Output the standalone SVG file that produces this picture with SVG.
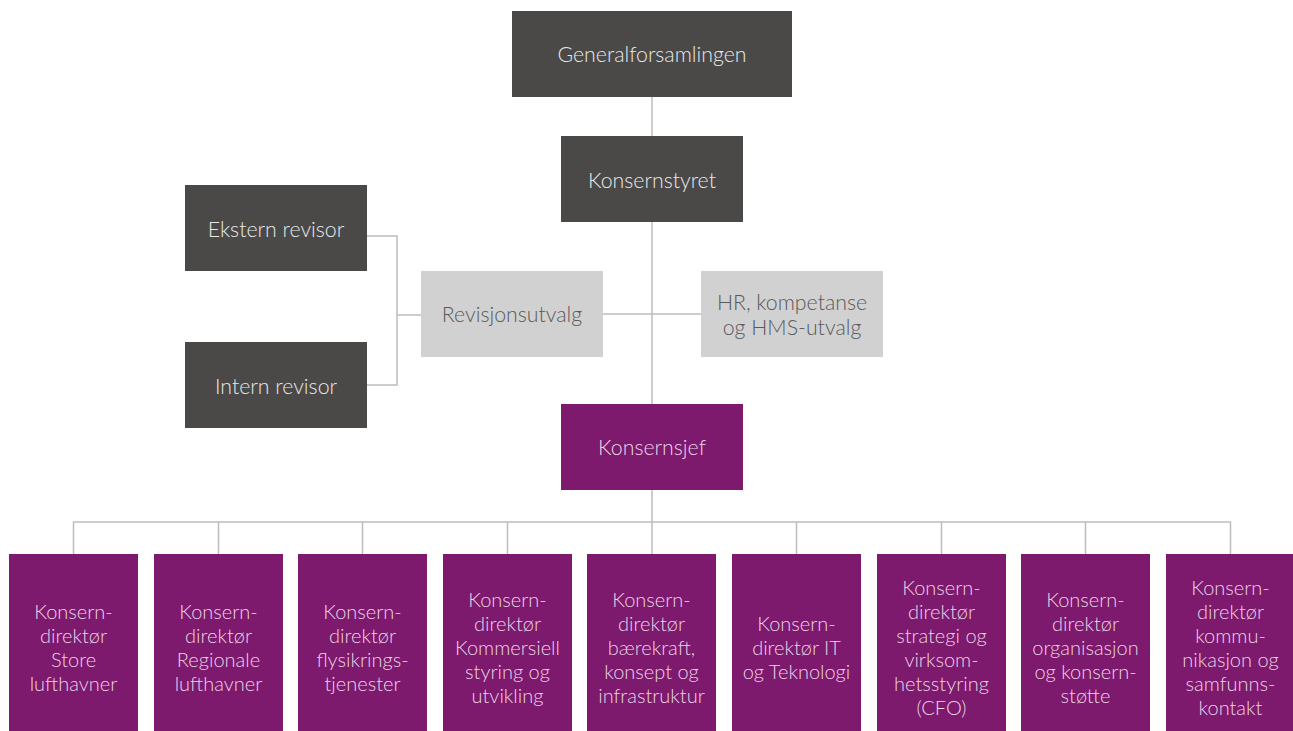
<svg xmlns="http://www.w3.org/2000/svg" width="1293" height="731" viewBox="0 0 1293 731">
<style>
.dark{fill:#4a4948}
.light{fill:#d1d1d1}
.purple{fill:#7d1a6d}
text{font-family:Lato,"Open Sans","Liberation Sans",sans-serif;font-weight:300;font-size:20px;text-anchor:middle}
.big{font-size:21.3px}
.td{fill:#e8e8e8}
.tl{fill:#5a5a5a}
.tp{fill:#ecd3e7}
.conn{stroke:#bdbdbd;stroke-width:1.5;fill:none}
</style>
<rect width="1293" height="731" fill="#ffffff"/>
<g id="connectors">
<path class="conn" d="M652 97V554"/>
<path class="conn" d="M367 236H397V385H367M397 315H421"/>
<path class="conn" d="M603 314H701"/>
<path class="conn" d="M73.5 554V522H1230.5V554M218.5 522V554M362.5 522V554M507.5 522V554M796.5 522V554M941.5 522V554M1085.5 522V554"/>
</g>
<g id="generalforsamlingen"><rect class="dark" x="512" y="11" width="280" height="86"/><text class="td big" x="652" y="62">Generalforsamlingen</text></g>
<g id="konsernstyret"><rect class="dark" x="561" y="136" width="182" height="86"/><text class="td big" x="652" y="188">Konsernstyret</text></g>
<g id="ekstern"><rect class="dark" x="185" y="185" width="182" height="86"/><text class="td big" x="276" y="237">Ekstern revisor</text></g>
<g id="intern"><rect class="dark" x="185" y="342" width="182" height="86"/><text class="td big" x="276" y="394">Intern revisor</text></g>
<g id="revisjonsutvalg"><rect class="light" x="421" y="271" width="182" height="86"/><text class="tl big" x="512" y="322">Revisjonsutvalg</text></g>
<g id="hr"><rect class="light" x="701" y="271" width="182" height="86"/><text class="tl big" x="792" y="310">HR, kompetanse</text><text class="tl big" x="792" y="335">og HMS-utvalg</text></g>
<g id="konsernsjef"><rect class="purple" x="561" y="404" width="182" height="86"/><text class="tp big" x="652" y="455">Konsernsjef</text></g>
<g id="d1"><rect class="purple" x="9" y="554" width="129" height="177"/><text class="tp" x="73.5" y="619">Konsern-</text><text class="tp" x="73.5" y="643">direktør</text><text class="tp" x="73.5" y="667">Store</text><text class="tp" x="73.5" y="691">lufthavner</text></g>
<g id="d2"><rect class="purple" x="154" y="554" width="129" height="177"/><text class="tp" x="218.5" y="619">Konsern-</text><text class="tp" x="218.5" y="643">direktør</text><text class="tp" x="218.5" y="667">Regionale</text><text class="tp" x="218.5" y="691">lufthavner</text></g>
<g id="d3"><rect class="purple" x="298" y="554" width="129" height="177"/><text class="tp" x="362.5" y="619">Konsern-</text><text class="tp" x="362.5" y="643">direktør</text><text class="tp" x="362.5" y="667">flysikrings-</text><text class="tp" x="362.5" y="691">tjenester</text></g>
<g id="d4"><rect class="purple" x="443" y="554" width="129" height="177"/><text class="tp" x="507.5" y="607">Konsern-</text><text class="tp" x="507.5" y="631">direktør</text><text class="tp" x="507.5" y="655">Kommersiell</text><text class="tp" x="507.5" y="679">styring og</text><text class="tp" x="507.5" y="703">utvikling</text></g>
<g id="d5"><rect class="purple" x="587" y="554" width="129" height="177"/><text class="tp" x="651.5" y="607">Konsern-</text><text class="tp" x="651.5" y="631">direktør</text><text class="tp" x="651.5" y="655">bærekraft,</text><text class="tp" x="651.5" y="679">konsept og</text><text class="tp" x="651.5" y="703">infrastruktur</text></g>
<g id="d6"><rect class="purple" x="732" y="554" width="129" height="177"/><text class="tp" x="796.5" y="631">Konsern-</text><text class="tp" x="796.5" y="655">direktør IT</text><text class="tp" x="796.5" y="679">og Teknologi</text></g>
<g id="d7"><rect class="purple" x="877" y="554" width="129" height="177"/><text class="tp" x="941.5" y="595">Konsern-</text><text class="tp" x="941.5" y="619">direktør</text><text class="tp" x="941.5" y="643">strategi og</text><text class="tp" x="941.5" y="667">virksom-</text><text class="tp" x="941.5" y="691">hetsstyring</text><text class="tp" x="941.5" y="715">(CFO)</text></g>
<g id="d8"><rect class="purple" x="1021" y="554" width="129" height="177"/><text class="tp" x="1085.5" y="607">Konsern-</text><text class="tp" x="1085.5" y="631">direktør</text><text class="tp" x="1085.5" y="655">organisasjon</text><text class="tp" x="1085.5" y="679">og konsern-</text><text class="tp" x="1085.5" y="703">støtte</text></g>
<g id="d9"><rect class="purple" x="1166" y="554" width="129" height="177"/><text class="tp" x="1230.5" y="595">Konsern-</text><text class="tp" x="1230.5" y="619">direktør</text><text class="tp" x="1230.5" y="643">kommu-</text><text class="tp" x="1230.5" y="667">nikasjon og</text><text class="tp" x="1230.5" y="691">samfunns-</text><text class="tp" x="1230.5" y="715">kontakt</text></g>
</svg>
